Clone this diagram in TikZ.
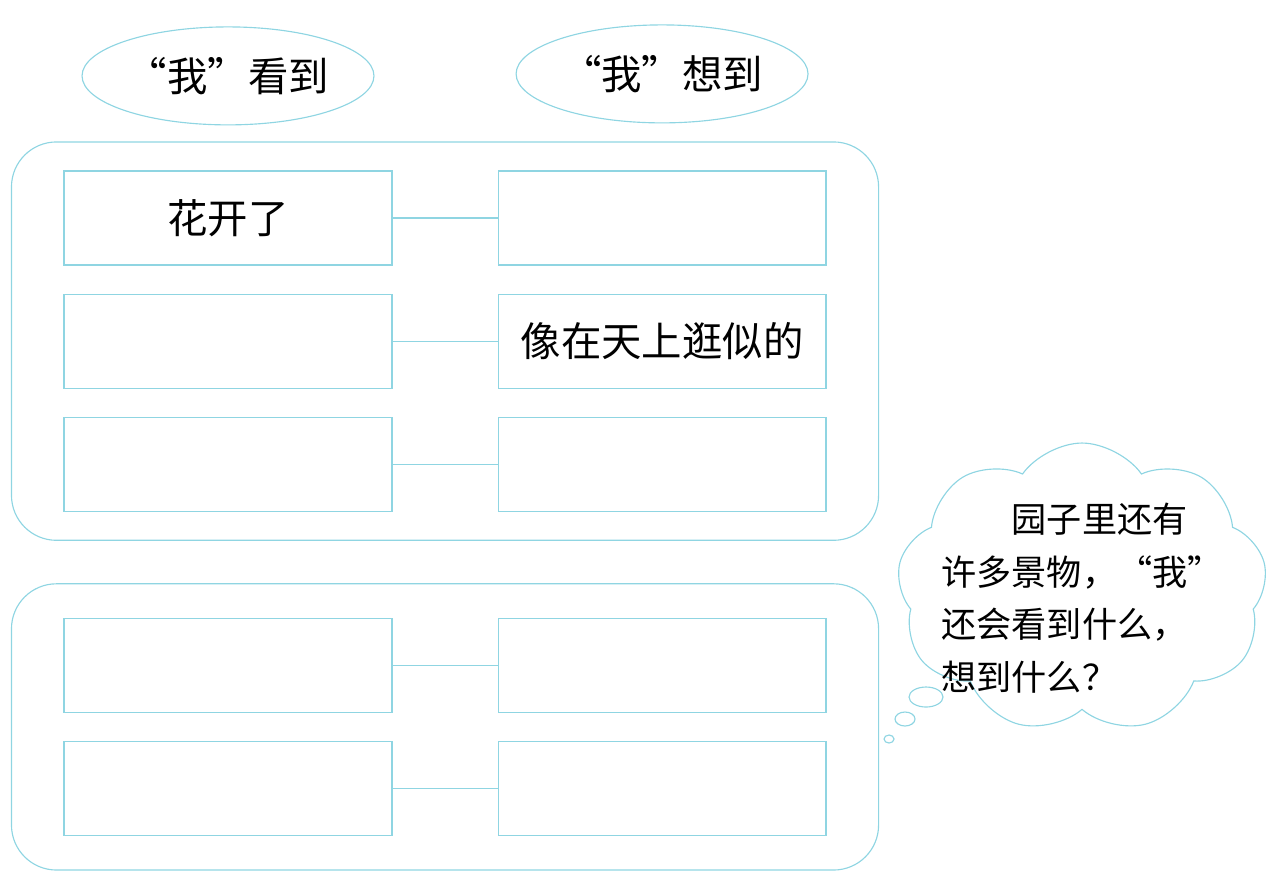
\documentclass[tikz,border=0pt]{standalone}
\usepackage{fontspec}
\newfontfamily\cjk{Noto Sans CJK SC}
\usepackage{tikz}
\usetikzlibrary{positioning,fit,shapes.geometric,shapes.symbols}
\definecolor{lineblue}{HTML}{8FD5E2}

\begin{document}
\begin{tikzpicture}[x=0.02cm, y=-0.02cm,
  font=\cjk\fontsize{23}{27}\selectfont,
  box/.style={draw=lineblue, line width=0.65pt, minimum width=6.56cm, minimum height=1.88cm, inner sep=0pt},
  groupbox/.style={draw=lineblue, line width=0.65pt, rounded corners=0.9cm, inner xsep=1.04cm, inner ysep=0.57cm},
  tag/.style={ellipse, draw=lineblue, line width=0.65pt, minimum width=5.84cm, minimum height=1.96cm, inner sep=0pt},
  bubble/.style={ellipse, draw=lineblue, line width=0.65pt, inner sep=0pt},
  link/.style={draw=lineblue, line width=0.65pt}]
\useasboundingbox (0,0) rectangle (1273,877);
% first group
\node[box] (see1) at (228,218) {花开了};
\node[box, below=0.56cm of see1] (see2) {};
\node[box, below=0.56cm of see2] (see3) {};
\node[box, right=2.1cm of see1] (think1) {};
\node[box, right=2.1cm of see2] (think2) {像在天上逛似的};
\node[box, right=2.1cm of see3] (think3) {};
% second group
\node[box, below=2.12cm of see3] (see4) {};
\node[box, below=0.56cm of see4] (see5) {};
\node[box, right=2.1cm of see4] (think4) {};
\node[box, right=2.1cm of see5] (think5) {};
% headings
\node[tag, above=0.9cm of see1] (seen) {“我”看到};
\node[tag, above=0.94cm of think1] (thought) {“我”想到};

\foreach \i in {1,...,5}
  \draw[link] (see\i) -- (think\i);

\node[groupbox, fit=(see1)(see2)(see3)(think1)(think2)(think3)] (upper) {};
\node[groupbox, fit=(see4)(see5)(think4)(think5), inner ysep=0.68cm] (lower) {};

% thought cloud
\node[cloud, draw=lineblue, line width=0.65pt, cloud puffs=9, cloud puff arc=110,
  minimum width=7.4cm, minimum height=5.8cm] (cloud) at (1082,588) {};
\node[bubble, minimum width=0.68cm, minimum height=0.4cm] (puff1) at (926,697) {};
\node[bubble, minimum width=0.4cm, minimum height=0.28cm] (puff2) at (905,719) {};
\node[bubble, minimum width=0.2cm, minimum height=0.16cm] (puff3) at (889,739) {};
\node[align=left, font=\cjk\fontsize{20}{30}\selectfont] (ask) at (1082,598)
  {\hspace*{2em}园子里还有\\许多景物，“我”\\还会看到什么，\\想到什么？};
\end{tikzpicture}
\end{document}
